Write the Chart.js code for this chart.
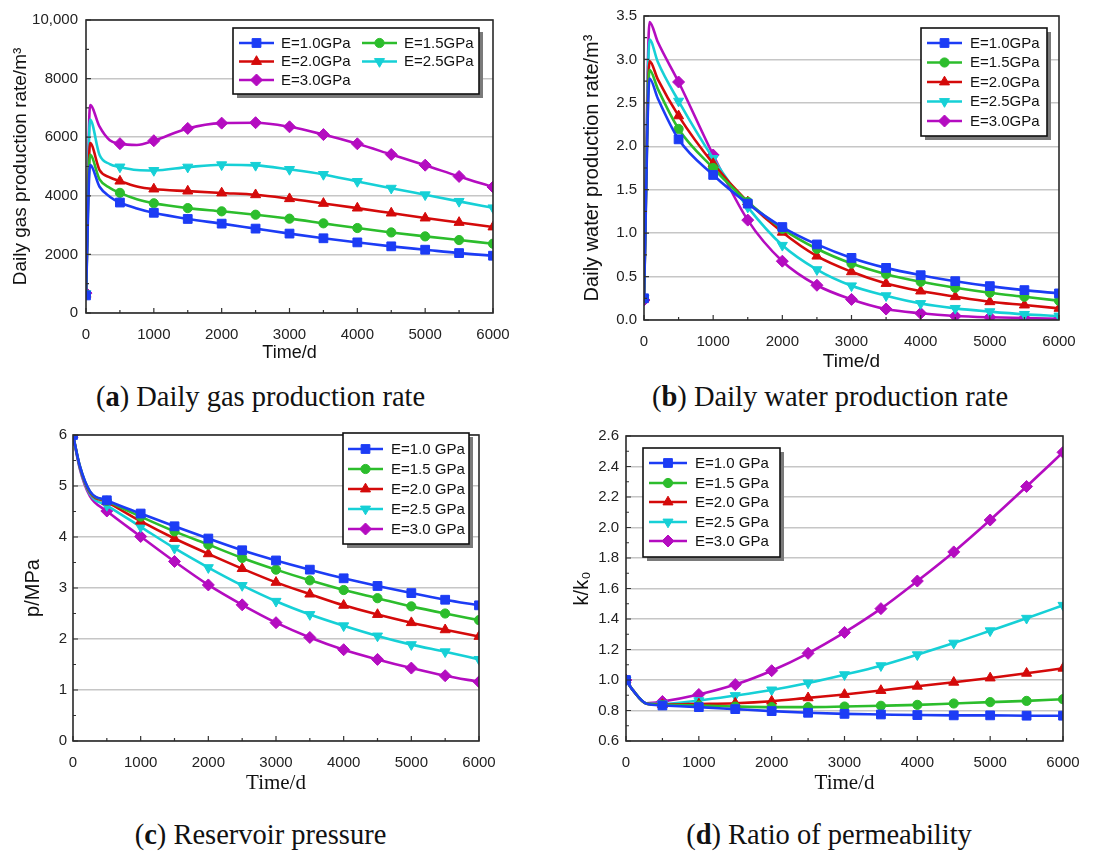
<!DOCTYPE html>
<html><head><meta charset="utf-8">
<script src="https://cdn.jsdelivr.net/npm/chart.js@4.4.0/dist/chart.umd.min.js"></script>
<style>
body{margin:0;background:#fff;width:1097px;height:853px;position:relative;overflow:hidden}
.pane{position:absolute}
.cap{position:absolute;font-family:"Liberation Serif","Times New Roman",serif;font-size:28.5px;line-height:30px;color:#111;text-align:center;white-space:nowrap}
</style></head><body>
<div class="pane" style="left:0;top:0;width:545px;height:375px"><canvas id="ca"></canvas></div>
<div class="pane" style="left:548px;top:0;width:549px;height:375px"><canvas id="cb"></canvas></div>
<div class="pane" style="left:0;top:420px;width:545px;height:375px"><canvas id="cc"></canvas></div>
<div class="pane" style="left:548px;top:420px;width:549px;height:375px"><canvas id="cd"></canvas></div>
<div class="cap" style="left:0;width:521px;top:382px">(<b>a</b>) Daily gas production rate</div>
<div class="cap" style="left:560px;width:540px;top:382px">(<b>b</b>) Daily water production rate</div>
<div class="cap" style="left:0;width:521px;top:820px">(<b>c</b>) Reservoir pressure</div>
<div class="cap" style="left:549px;width:560px;top:820px">(<b>d</b>) Ratio of permeability</div>
<script>
// ---------------- DATA ----------------
const labelsAB = ['E=1.0GPa','E=1.5GPa','E=2.0GPa','E=2.5GPa','E=3.0GPa'];
const labelsCD = ['E=1.0 GPa','E=1.5 GPa','E=2.0 GPa','E=2.5 GPa','E=3.0 GPa'];
const xTicks = [0,1000,2000,3000,4000,5000,6000];

// (a) Daily gas production rate
const timeA = [0,60,200,350,500,750,1000,1500,2000,2500,3000,3500,4000,4500,5000,5500,6000];
const gasE10 = [600,5050,4310,3970,3770,3570,3420,3210,3050,2880,2710,2550,2410,2275,2160,2045,1955];
const gasE15 = [620,5400,4560,4270,4100,3880,3745,3580,3470,3355,3220,3060,2900,2750,2615,2490,2365];
const gasE20 = [640,5800,4880,4630,4500,4320,4230,4160,4095,4035,3900,3740,3580,3410,3240,3090,2935];
const gasE25 = [660,6600,5390,5085,4985,4880,4865,4980,5060,5040,4900,4730,4490,4260,4035,3810,3590];
const gasE30 = [680,7100,6360,5900,5780,5735,5880,6300,6480,6495,6355,6090,5775,5410,5045,4660,4300];
const yTicksA = [0,2000,4000,6000,8000,10000];

// (b) Daily water production rate
const timeB = [0,80,200,500,1000,1500,2000,2500,3000,3500,4000,4500,5000,5500,6000];
const watE10 = [0.25,2.78,2.55,2.08,1.67,1.34,1.07,0.87,0.715,0.60,0.516,0.447,0.39,0.344,0.306];
const watE15 = [0.25,2.88,2.66,2.20,1.75,1.36,1.05,0.82,0.65,0.528,0.44,0.371,0.314,0.268,0.222];
const watE20 = [0.25,2.98,2.77,2.35,1.80,1.36,1.01,0.735,0.555,0.42,0.333,0.268,0.21,0.172,0.134];
const watE25 = [0.25,3.23,2.97,2.52,1.86,1.30,0.86,0.58,0.394,0.28,0.19,0.134,0.096,0.065,0.046];
const watE30 = [0.23,3.43,3.20,2.74,1.90,1.15,0.677,0.40,0.237,0.126,0.077,0.046,0.031,0.023,0.015];
const yTicksB = [0,0.5,1.0,1.5,2.0,2.5,3.0,3.5];

// (c) Reservoir pressure
const timeC = [0,100,250,500,1000,1500,2000,2500,3000,3500,4000,4500,5000,5500,6000];
const presE10 = [6.0,5.40,4.90,4.72,4.46,4.21,3.97,3.74,3.54,3.36,3.19,3.04,2.90,2.77,2.66];
const presE15 = [6.0,5.40,4.89,4.71,4.40,4.11,3.85,3.59,3.36,3.15,2.96,2.80,2.64,2.50,2.37];
const presE20 = [6.0,5.38,4.87,4.69,4.31,3.97,3.67,3.38,3.11,2.88,2.66,2.48,2.32,2.18,2.05];
const presE25 = [6.0,5.36,4.84,4.62,4.20,3.78,3.40,3.05,2.74,2.48,2.26,2.06,1.89,1.75,1.60];
const presE30 = [6.0,5.34,4.80,4.51,4.01,3.52,3.06,2.67,2.32,2.03,1.79,1.60,1.43,1.28,1.16];
const yTicksC = [0,1,2,3,4,5,6];

// (d) Ratio of permeability
const timeD = [0,100,280,500,1000,1500,2000,2500,3000,3500,4000,4500,5000,5500,6000];
const permE10 = [1.0,0.93,0.845,0.833,0.822,0.809,0.796,0.785,0.778,0.774,0.770,0.768,0.768,0.766,0.766];
const permE15 = [1.0,0.93,0.845,0.837,0.833,0.826,0.822,0.822,0.826,0.831,0.837,0.846,0.855,0.863,0.874];
const permE20 = [1.0,0.93,0.845,0.839,0.843,0.848,0.861,0.883,0.905,0.931,0.959,0.985,1.013,1.044,1.077];
const permE25 = [1.0,0.93,0.846,0.843,0.865,0.898,0.935,0.981,1.035,1.094,1.166,1.242,1.323,1.405,1.490];
const permE30 = [1.0,0.93,0.848,0.859,0.905,0.970,1.061,1.175,1.312,1.468,1.649,1.840,2.049,2.269,2.493];
const yTicksD = [0.6,0.8,1.0,1.2,1.4,1.6,1.8,2.0,2.2,2.4,2.6];

// ---------------- STYLE ----------------
const seriesStyle = [
  {color:'#1c3cf5', pointStyle:'rect',     radius:6.2, rotation:0},
  {color:'#2cbd2c', pointStyle:'circle',   radius:4.6, rotation:0},
  {color:'#d40a0a', pointStyle:'triangle', radius:5.8, rotation:0},
  {color:'#16d0d6', pointStyle:'triangle', radius:5.8, rotation:180},
  {color:'#b40cc0', pointStyle:'rectRot',  radius:6.0, rotation:0}
];
const SANS = '"Liberation Sans", Arial, sans-serif';
const SERIF = '"Liberation Serif", "Times New Roman", serif';
Chart.defaults.font.family = SANS;
Chart.defaults.color = '#222';

const framePlugin = {
  id: 'frameTicks',
  afterDatasetsDraw(chart, args, o) {
    const {ctx, chartArea: a, scales} = chart;
    ctx.save();
    ctx.strokeStyle = '#333';
    ctx.lineWidth = 1.2;
    ctx.beginPath();
    const xs = scales.x, ys = scales.y;
    for (let v = xs.min; v <= xs.max + 1e-9; v += 500) {
      const p = xs.getPixelForValue(v);
      const len = (Math.round(v) % 1000 === 0) ? 5 : 3;
      ctx.moveTo(p, a.bottom); ctx.lineTo(p, a.bottom - len);
    }
    const st = o.yStep / 2;
    let k = 0;
    for (let v = ys.min; v <= ys.max + 1e-9; v = ys.min + (++k) * st) {
      const p = ys.getPixelForValue(v);
      const len = (k % 2 === 0) ? 5 : 3;
      ctx.moveTo(a.left, p); ctx.lineTo(a.left + len, p);
    }
    ctx.stroke();
    ctx.lineWidth = 1.6;
    ctx.strokeStyle = '#2a2a2a';
    ctx.strokeRect(a.left, a.top, a.right - a.left, a.bottom - a.top);
    ctx.restore();
  }
};

const legendPlugin = {
  id: 'boxLegend',
  afterDraw(chart, args, o) {
    const ctx = chart.ctx;
    const [x1, y1, x2, y2] = o.box;
    ctx.save();
    ctx.fillStyle = '#7a7a7a';
    ctx.fillRect(x1 + 4, y1 + 4, x2 - x1, y2 - y1);
    ctx.fillStyle = '#fff';
    ctx.fillRect(x1, y1, x2 - x1, y2 - y1);
    ctx.strokeStyle = '#111';
    ctx.lineWidth = 1.6;
    ctx.strokeRect(x1, y1, x2 - x1, y2 - y1);
    chart.data.datasets.forEach((ds, i) => {
      const st = seriesStyle[i];
      const col = i % o.cols.length, row = Math.floor(i / o.cols.length);
      const lx = o.cols[col], y = o.rows[row];
      ctx.strokeStyle = st.color;
      ctx.lineWidth = 2.6;
      ctx.beginPath(); ctx.moveTo(lx, y); ctx.lineTo(lx + o.len, y); ctx.stroke();
      ctx.fillStyle = st.color; ctx.strokeStyle = st.color; ctx.lineWidth = 1;
      Chart.helpers.drawPoint(ctx, {pointStyle: st.pointStyle, radius: st.radius, rotation: st.rotation, borderWidth: 1}, lx + o.len / 2, y);
      ctx.fillStyle = '#111';
      ctx.font = '15px ' + SANS;
      ctx.textBaseline = 'middle';
      ctx.textAlign = 'left';
      ctx.fillText(ds.label, lx + o.len + o.gap, y + 0.5);
    });
    ctx.restore();
  }
};

function makeChart(id, p) {
  const datasets = p.series.map((vals, i) => {
    const st = seriesStyle[i];
    return {
      label: p.labels[i],
      data: p.times.map((t, j) => ({x: t, y: vals[j]})),
      borderColor: st.color,
      backgroundColor: st.color,
      pointBackgroundColor: st.color,
      pointBorderColor: st.color,
      pointBorderWidth: 1,
      borderWidth: 2.6,
      pointStyle: st.pointStyle,
      pointRotation: st.rotation,
      pointRadius: c => (p.times[c.dataIndex] % 500 === 0 ? st.radius : 0),
      pointHoverRadius: c => (p.times[c.dataIndex] % 500 === 0 ? st.radius : 0),
      cubicInterpolationMode: 'monotone',
      clip: 0
    };
  });
  return new Chart(document.getElementById(id), {
    type: 'line',
    data: {datasets},
    plugins: [framePlugin, legendPlugin],
    options: {
      responsive: true,
      maintainAspectRatio: false,
      animation: false,
      events: [],
      layout: {padding: {left: 0, right: p.W - p.area[1], top: p.area[2], bottom: 0}},
      plugins: {
        legend: {display: false},
        tooltip: {enabled: false},
        frameTicks: {yStep: p.yTicks[1] - p.yTicks[0]},
        boxLegend: p.legend
      },
      scales: {
        x: {
          type: 'linear', min: 0, max: 6000,
          afterBuildTicks: s => { s.ticks = xTicks.map(v => ({value: v})); },
          ticks: {font: {size: 15}, color: '#222', padding: 5, maxRotation: 0, callback: v => String(v)},
          grid: {display: false},
          border: {display: false},
          title: {display: true, text: 'Time/d', font: p.xTitleFont, color: '#111', padding: {top: 0, bottom: p.xTitlePad}},
          afterFit: s => { s.height = p.H - p.area[3]; }
        },
        y: {
          type: 'linear', min: p.yTicks[0], max: p.yTicks[p.yTicks.length - 1],
          afterBuildTicks: s => { s.ticks = p.yTicks.map(v => ({value: v})); },
          ticks: {font: {size: 15}, color: '#222', padding: p.yTickPad, callback: p.yFmt},
          grid: {color: '#c6c6c6', lineWidth: 1.5, drawTicks: false},
          border: {display: false},
          title: {display: true, text: p.yTitle, font: {size: p.yTitleSize, family: SANS}, color: '#111', padding: {top: p.yTitlePad, bottom: 0}},
          afterFit: s => { s.width = p.area[0]; }
        }
      }
    }
  });
}

makeChart('ca', {
  W: 545, H: 375, area: [86, 493, 20, 313],
  times: timeA, series: [gasE10, gasE15, gasE20, gasE25, gasE30], labels: labelsAB,
  yTicks: yTicksA, yFmt: v => (v === 10000 ? '10,000' : String(v)), yTickPad: 8,
  yTitle: 'Daily gas production rate/m³', yTitleSize: 19, yTitlePad: 9,
  xTitleFont: {size: 18, family: SANS}, xTitlePad: 11,
  legend: {box: [233, 28, 479, 94], cols: [239, 362], rows: [43, 61.5, 80], len: 35, gap: 7}
});
makeChart('cb', {
  W: 549, H: 375, area: [96, 511, 15, 320],
  times: timeB, series: [watE10, watE15, watE20, watE25, watE30], labels: labelsAB,
  yTicks: yTicksB, yFmt: v => Number(v).toFixed(1), yTickPad: 7,
  yTitle: 'Daily water production rate/m³', yTitleSize: 20, yTitlePad: 32,
  xTitleFont: {size: 19, family: SANS}, xTitlePad: 2,
  legend: {box: [373, 28, 499, 136], cols: [379], rows: [43, 62.5, 82, 101.5, 121], len: 35, gap: 8}
});
makeChart('cc', {
  W: 545, H: 375, area: [73, 479, 8, 321],
  times: timeC, series: [presE10, presE15, presE20, presE25, presE30], labels: labelsCD,
  yTicks: yTicksC, yFmt: v => String(v), yTickPad: 6,
  yTitle: 'p/MPa', yTitleSize: 20, yTitlePad: 21,
  xTitleFont: {size: 21, family: SERIF, lineHeight: 1}, xTitlePad: 1,
  legend: {box: [343, 13, 469, 124], cols: [348], rows: [29, 49, 69, 89, 109], len: 35, gap: 8}
});
makeChart('cd', {
  W: 549, H: 375, area: [78, 515, 14, 321],
  times: timeD, series: [permE10, permE15, permE20, permE25, permE30], labels: labelsCD,
  yTicks: yTicksD, yFmt: v => Number(v).toFixed(1), yTickPad: 7,
  yTitle: 'k/k₀', yTitleSize: 20, yTitlePad: 22,
  xTitleFont: {size: 21, family: SERIF, lineHeight: 1}, xTitlePad: 1,
  legend: {box: [95, 28, 232, 137], cols: [101], rows: [43, 63, 82, 102, 121], len: 38, gap: 8}
});
</script>
</body></html>
